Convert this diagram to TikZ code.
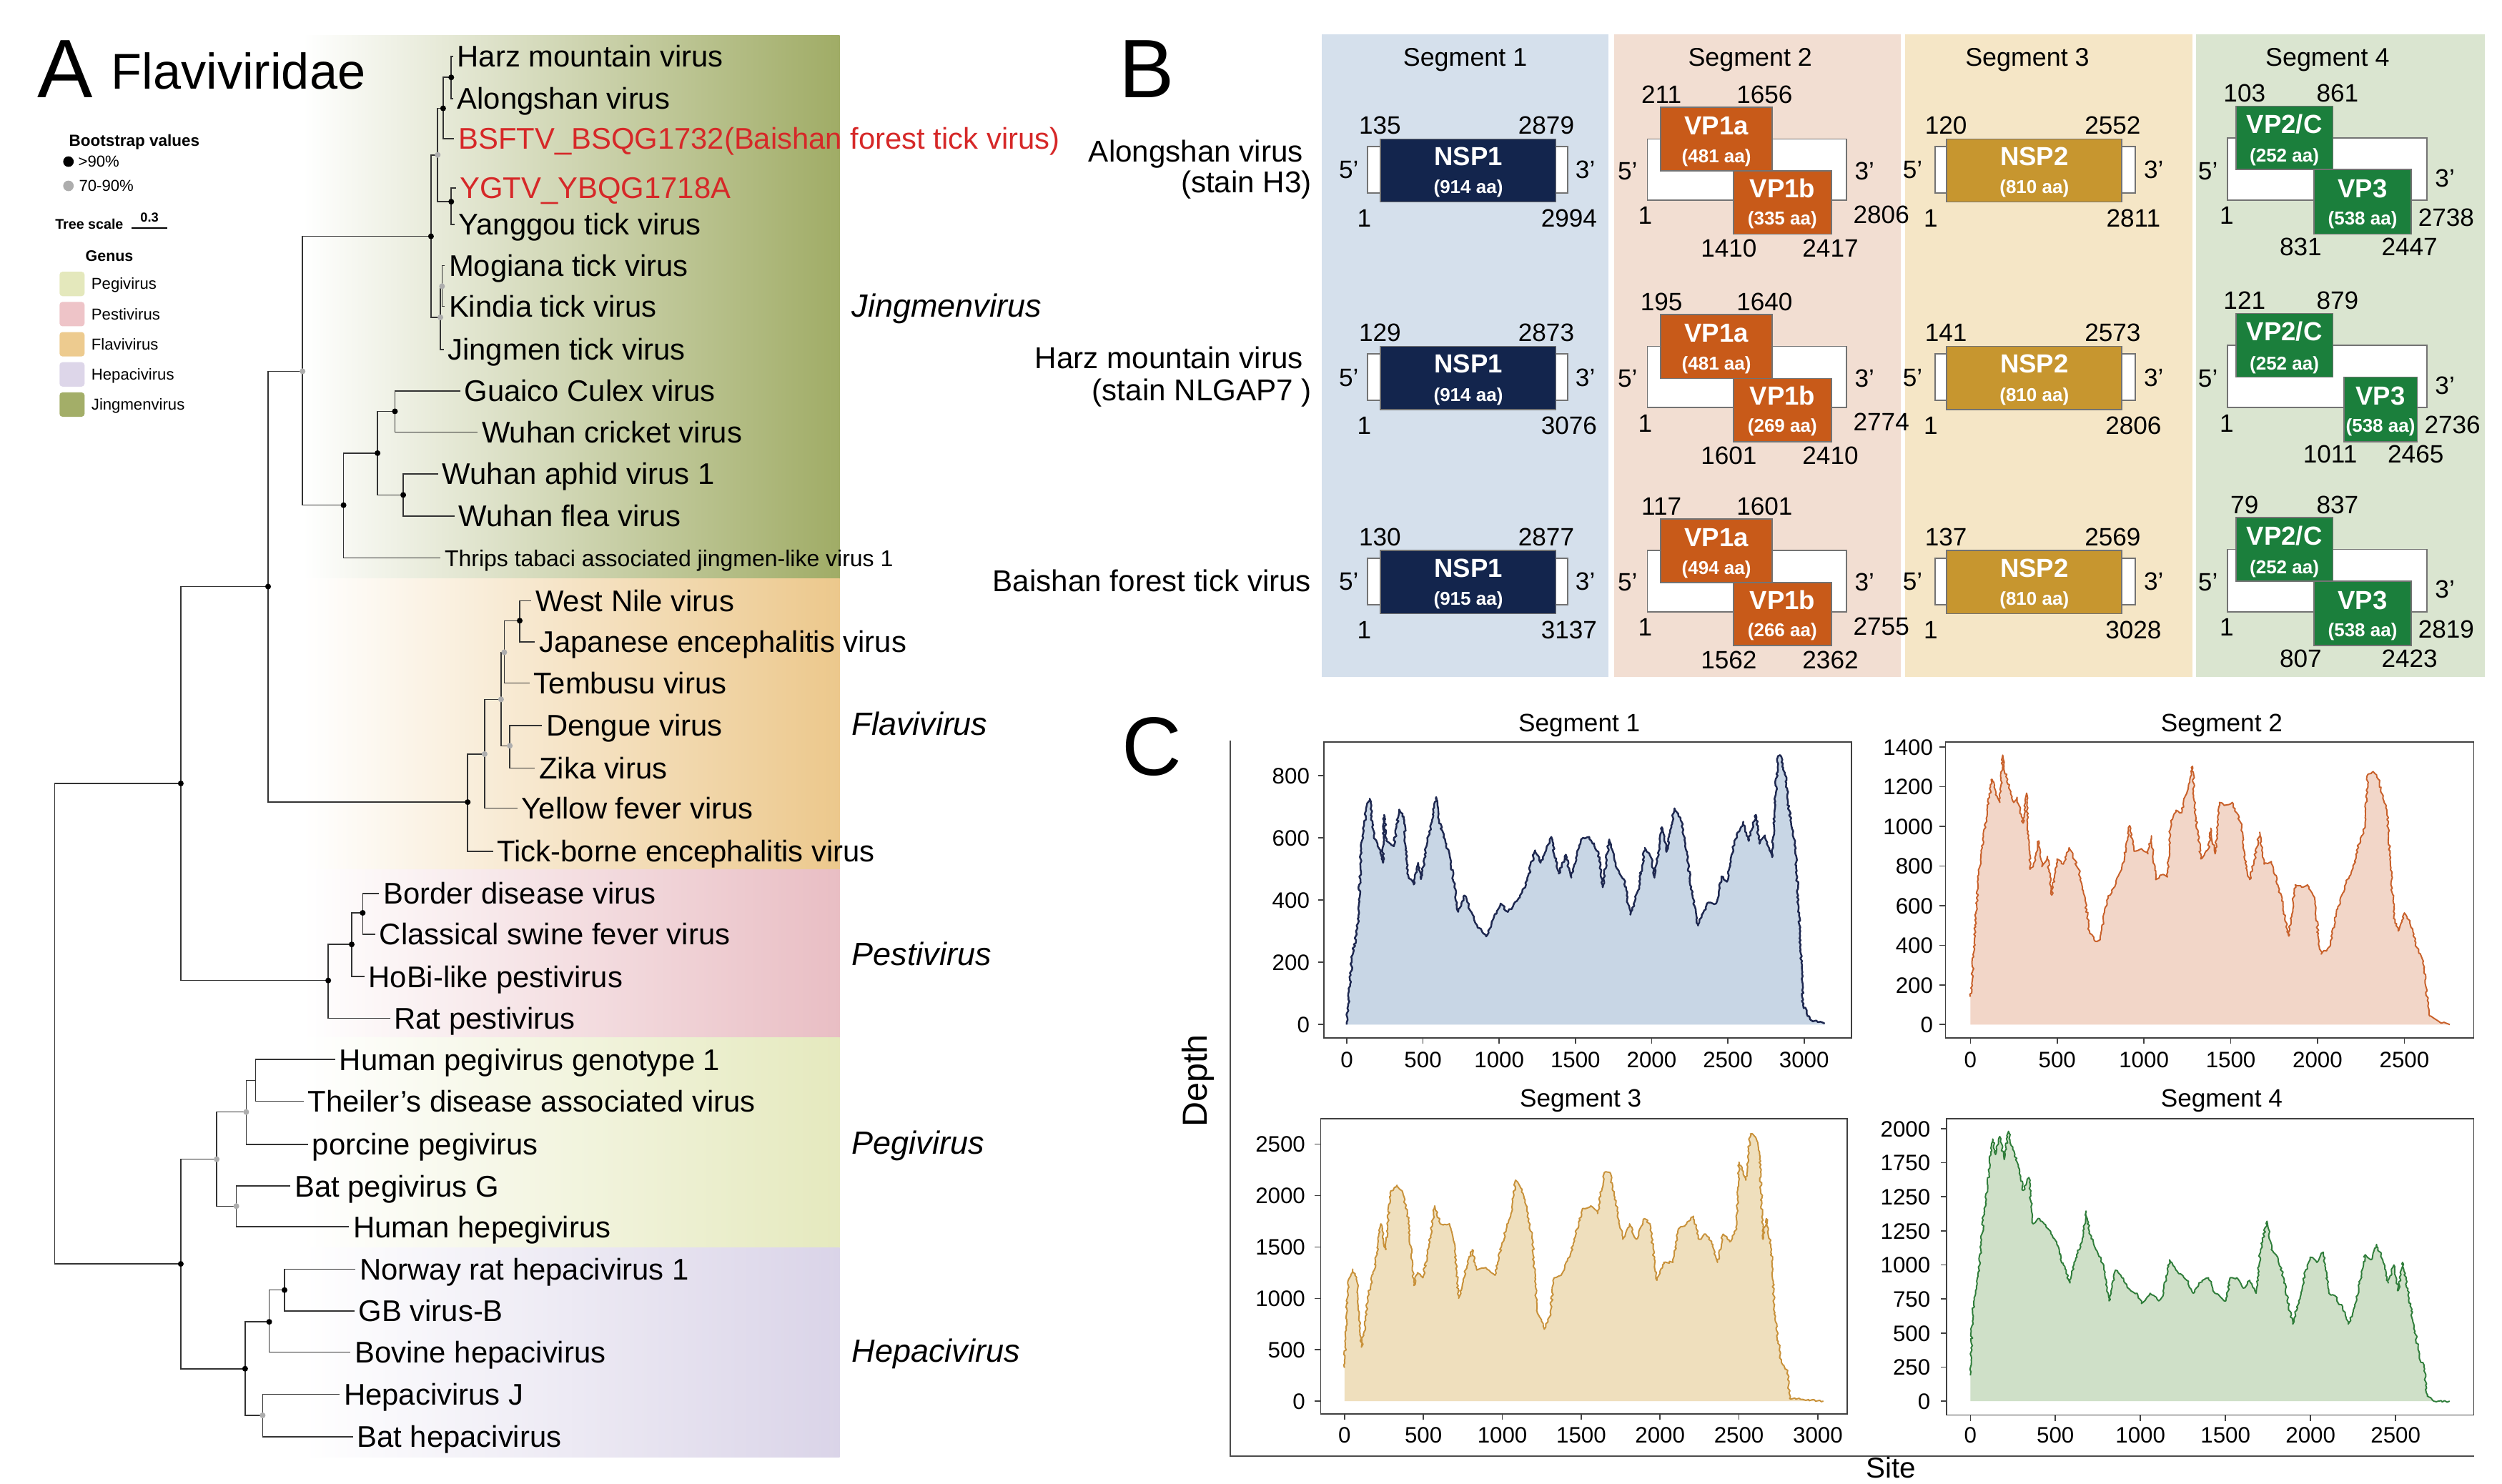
\documentclass[tikz,border=0pt]{standalone}
\usepackage{fontspec}
\setmainfont{Liberation Sans}
\usetikzlibrary{decorations.pathmorphing}
\definecolor{jingC}{RGB}{160,172,102}
\definecolor{flaviC}{RGB}{236,200,140}
\definecolor{pestiC}{RGB}{233,190,196}
\definecolor{pegiC}{RGB}{229,233,190}
\definecolor{hepaC}{RGB}{218,212,232}
\definecolor{lgPegi}{RGB}{228,232,188}
\definecolor{lgPesti}{RGB}{238,196,200}
\definecolor{lgFlavi}{RGB}{237,203,143}
\definecolor{lgHepa}{RGB}{221,214,233}
\definecolor{lgJing}{RGB}{163,174,104}
\definecolor{sOne}{RGB}{213,224,236}
\definecolor{sTwo}{RGB}{242,222,210}
\definecolor{sThree}{RGB}{245,230,198}
\definecolor{sFour}{RGB}{218,229,208}
\definecolor{cNSPa}{RGB}{19,37,77}
\definecolor{cVP}{RGB}{200,90,25}
\definecolor{cNSPb}{RGB}{199,150,47}
\definecolor{cGreen}{RGB}{27,127,60}
\definecolor{lOne}{RGB}{30,40,80}
\definecolor{fOne}{RGB}{200,214,229}
\definecolor{lTwo}{RGB}{200,96,42}
\definecolor{fTwo}{RGB}{242,214,200}
\definecolor{lThree}{RGB}{200,145,58}
\definecolor{fThree}{RGB}{239,223,189}
\definecolor{lFour}{RGB}{47,125,58}
\definecolor{fFour}{RGB}{207,224,200}
\definecolor{redL}{RGB}{214,40,40}

\newcommand\segone[6]{%
 \begin{scope}[shift={(0,#2)}]
 \draw[wbar] (857,91.8) rectangle (982.4,121);
 \draw[gbox,fill=cNSPa] (865.2,87.1) rectangle (975.1,126.6);
 \node[boxlab] (#1Na) at (920.2,97.8) {NSP1};
 \node[aalab] (#1Nb) at (920.2,117.2) {(#6 aa)};
 \node[num] (#1Nc) at (864.8,78.4) {#3};
 \node[num] (#1Nd) at (969,78.4) {#4};
 \node[num] (#1Ne) at (855,136.6) {1};
 \node[num] (#1Nf) at (983.3,136.6) {#5};
 \node[num] (#1Ng) at (845.3,106.3) {5’};
 \node[num] (#1Nh) at (993.5,106.3) {3’};
 \end{scope}}

\newcommand\segtwo[9]{%
 \begin{scope}[shift={(0,#2)}]
 \draw[wbar] (1032.4,87.1) rectangle (1157.3,125.4);
 \draw[gbox,fill=cVP] (1040.7,67.2) rectangle (1110.7,107.2);
 \draw[gbox,fill=cVP] (1086.3,107.2) rectangle (1147.6,146.7);
 \node[boxlab] (#1Va) at (1075.7,78.4) {VP1a};
 \node[aalab] (#1Vb) at (1075.7,97.8) {(#8 aa)};
 \node[boxlab] (#1Vc) at (1117,118) {VP1b};
 \node[aalab] (#1Vd) at (1117,136.6) {(#9 aa)};
 \node[num] (#1Ve) at (1041.2,59) {#3};
 \node[num] (#1Vf) at (1105.8,59) {#4};
 \node[num] (#1Vg) at (1031,135) {1};
 \node[num] (#1Vh) at (1179,134.4) {#5};
 \node[num] (#1Vi) at (1083.4,155.3) {#6};
 \node[num] (#1Vj) at (1147.1,155.3) {#7};
 \node[num] (#1Vk) at (1020,106.8) {5’};
 \node[num] (#1Vl) at (1168.5,106.8) {3’};
 \end{scope}}

\newcommand\segthree[6]{%
 \begin{scope}[shift={(0,#2)}]
 \draw[wbar] (1212.7,91.8) rectangle (1338,121);
 \draw[gbox,fill=cNSPb] (1220,87.1) rectangle (1329.8,126.6);
 \node[boxlab] (#1Ta) at (1274.9,97.8) {NSP2};
 \node[aalab] (#1Tb) at (1274.9,117.2) {(#6 aa)};
 \node[num] (#1Tc) at (1219.5,78.4) {#3};
 \node[num] (#1Td) at (1324,78.4) {#4};
 \node[num] (#1Te) at (1210,136.6) {1};
 \node[num] (#1Tf) at (1337,136.6) {#5};
 \node[num] (#1Tg) at (1198.6,106.3) {5’};
 \node[num] (#1Th) at (1349.7,106.3) {3’};
 \end{scope}}

\newcommand\segfour[9]{%
 \begin{scope}[shift={(0,#2)}]
 \draw[wbar] (1395.9,86.3) rectangle (1520.8,125.4);
 \draw[gbox,fill=cGreen] (1401.2,66.5) rectangle (1462,106.3);
 \draw[gbox,fill=cGreen] (#8,106.3) rectangle (#9,146.7);
 \node[boxlab] (#1Ga) at (1431.6,77.5) {VP2/C};
 \node[aalab] (#1Gb) at (1431.6,97.5) {(252 aa)};
 \node[boxlab] (#1Gc) at ({(#8+#9)/2},118) {VP3};
 \node[aalab] (#1Gd) at ({(#8+#9)/2},136.6) {(538 aa)};
 \node[num] (#1Ge) at (1406.6,58.2) {#3};
 \node[num] (#1Gf) at (1464.9,58.2) {#4};
 \node[num] (#1Gg) at (1395.4,135) {1};
 \node[num] (#1Gh) at ({#9+22},136) {#5};
 \node[num] (#1Gi) at ({#8-8.5},154.6) {#6};
 \node[num] (#1Gj) at ({#9-1},154.6) {#7};
 \node[num] (#1Gk) at (1383.7,106.8) {5’};
 \node[num] (#1Gl) at (1532.2,111.3) {3’};
 \end{scope}}

\newcommand\covplot[4]{%
 \fill[#1] (0,0) -- plot coordinates {#4} -- (#3,0) -- cycle;
 \draw[#2] plot coordinates {#4};}

\begin{document}
\begin{tikzpicture}[x=0.02232cm, y=-0.02232cm,
 br/.style={draw=black!80, line width=0.45pt},
 dotb/.style={fill=black},
 dotg/.style={fill=black!32},
 leaf/.style={anchor=west, inner xsep=1.5pt, inner ysep=0pt, font=\fontsize{11.9}{13}\selectfont, text height=8.5pt, text depth=0pt},
 redleaf/.style={leaf, text=redL},
 smallleaf/.style={leaf, font=\fontsize{9.1}{10}\selectfont, text height=6.5pt},
 genus/.style={anchor=west, inner sep=0pt, font=\fontsize{12.8}{14}\selectfont\itshape, text height=9.2pt, text depth=0pt},
 legt/.style={anchor=west, inner sep=0pt, font=\fontsize{6.4}{7}\selectfont\bfseries, text height=4.6pt, text depth=0pt},
 legl/.style={anchor=west, inner sep=0pt, font=\fontsize{6.3}{7}\selectfont, text height=4.5pt, text depth=0pt},
 legbox/.style={rounded corners=1.2pt},
 bleft/.style={anchor=east, inner sep=0pt, font=\fontsize{12}{14}\selectfont, text height=8.6pt, text depth=0pt},
 btitle/.style={inner sep=0pt, font=\fontsize{10.2}{12}\selectfont, text height=7.3pt, text depth=0pt},
 num/.style={inner sep=0pt, font=\fontsize{10}{12}\selectfont, text height=7.2pt, text depth=0pt},
 boxlab/.style={inner sep=0pt, font=\fontsize{10.4}{12}\selectfont\bfseries, text=white, text height=7.5pt, text depth=0pt},
 aalab/.style={inner sep=0pt, font=\fontsize{7.4}{9}\selectfont\bfseries, text=white, text height=5.3pt, text depth=0pt},
 wbar/.style={fill=white, draw=black!55, line width=0.5pt},
 gbox/.style={draw=black!55, line width=0.5pt},
 pframe/.style={draw=black!75, line width=0.45pt},
 tck/.style={draw=black!75, line width=0.45pt},
 ctick/.style={inner sep=0pt, font=\fontsize{8.9}{10}\selectfont, text height=6.4pt, text depth=0pt},
 ctitle/.style={inner sep=0pt, font=\fontsize{10}{12}\selectfont, text height=7.2pt, text depth=0pt},
 noisy/.style={decorate, decoration={random steps, segment length=0.9pt, amplitude=0.45pt}},
 big/.style={inner sep=0pt, anchor=base west}
]
\pgfmathsetseed{7}
\useasboundingbox (0,0) rectangle (1568,930);
\clip (0,0) rectangle (1568,930);
\fill[white] (0,0) rectangle (1568,930);

% ---------- genus bands ----------
\shade[left color=white, middle color=jingC!40, right color=jingC] (190,22.2) rectangle (526.2,362.5);
\shade[left color=white, middle color=flaviC!40, right color=flaviC] (190,362.5) rectangle (526.2,545);
\shade[left color=white, middle color=pestiC!40, right color=pestiC] (190,545) rectangle (526.2,650.4);
\shade[left color=white, middle color=pegiC!40, right color=pegiC] (190,650.4) rectangle (526.2,782);
\shade[left color=white, middle color=hepaC!40, right color=hepaC] (190,782) rectangle (526.2,913.2);

% ---------- panel A titles and legend ----------
\node[big, font=\fontsize{33}{36}\selectfont] (lA) at (23,61.3) {A};
\node[big, font=\fontsize{20}{24}\selectfont] (ttl) at (69.5,56) {Flaviviridae};
\node[legt] (lgbs) at (43,88.1) {Bootstrap values};
\fill[black] (42.9,101.3) circle (2.1pt);
\node[legl] (lg90) at (48.8,101) {>90\%};
\fill[black!32] (42.9,116.5) circle (2.1pt);
\node[legl] (lg70) at (49.2,116.5) {70-90\%};
\node[legt, font=\fontsize{5.6}{6}\selectfont\bfseries, text height=4pt] (lgts) at (34.3,140.4) {Tree scale};
\draw[line width=0.8pt] (82.4,142.9) -- (105,142.9);
\node[inner sep=0pt, font=\fontsize{5.2}{6}\selectfont\bfseries, text height=3.7pt, text depth=0pt] (lg03) at (93.7,136.3) {0.3};
\node[legt, font=\fontsize{6.1}{7}\selectfont\bfseries, text height=4.4pt] (lgge) at (53.3,160.5) {Genus};
\fill[legbox, lgPegi] (37.3,170.3) rectangle (53,185.6);
\fill[legbox, lgPesti] (37.3,189.2) rectangle (53,204.5);
\fill[legbox, lgFlavi] (37.3,208.1) rectangle (53,223.4);
\fill[legbox, lgHepa] (37.3,227) rectangle (53,242.3);
\fill[legbox, lgJing] (37.3,245.9) rectangle (53,261.2);
\node[legl] (lgp1) at (57,177.9) {Pegivirus};
\node[legl] (lgp2) at (57,196.9) {Pestivirus};
\node[legl] (lgp3) at (57,215.8) {Flavivirus};
\node[legl] (lgp4) at (57,234.7) {Hepacivirus};
\node[legl] (lgp5) at (57,253.6) {Jingmenvirus};

% ---------- tree leaves ----------
\node[leaf] (Lharz) at (283.9,35.4) {Harz mountain virus};
\node[leaf] (Lalong) at (283.9,61.7) {Alongshan virus};
\node[redleaf] (Lbsftv) at (284.6,86.9) {BSFTV\_BSQG1732(Baishan forest tick virus)};
\node[redleaf] (Lygtv) at (285.6,117.7) {YGTV\_YBQG1718A};
\node[leaf] (Lyang) at (284.9,140.6) {Yanggou tick virus};
\node[leaf] (Lmog) at (278.7,166.4) {Mogiana tick virus};
\node[leaf] (Lkin) at (278.7,192) {Kindia tick virus};
\node[leaf] (Ljing) at (278,219) {Jingmen tick virus};
\node[leaf] (Lguaico) at (288.3,245) {Guaico Culex virus};
\node[leaf] (Lcricket) at (299.3,270.9) {Wuhan cricket virus};
\node[leaf] (Laphid) at (274.6,297) {Wuhan aphid virus 1};
\node[leaf] (Lflea) at (284.9,323.4) {Wuhan flea virus};
\node[smallleaf] (Lthrips) at (276,349.7) {Thrips tabaci associated jingmen-like virus 1};
\node[leaf] (Lwn) at (332.9,376.6) {West Nile virus};
\node[leaf] (Lje) at (335.3,402.3) {Japanese encephalitis virus};
\node[leaf] (Ltemb) at (331.9,428) {Tembusu virus};
\node[leaf] (Ldeng) at (339.7,454.6) {Dengue virus};
\node[leaf] (Lzika) at (335.3,481.3) {Zika virus};
\node[leaf] (Lyf) at (324.3,506.5) {Yellow fever virus};
\node[leaf] (Ltbe) at (308.9,533.5) {Tick-borne encephalitis virus};
\node[leaf] (Lbord) at (237.6,560) {Border disease virus};
\node[leaf] (Lcsf) at (235.2,585.5) {Classical swine fever virus};
\node[leaf] (Lhobi) at (228.3,612) {HoBi-like pestivirus};
\node[leaf] (Lrat) at (244.4,638.2) {Rat pestivirus};
\node[leaf] (Lhpg) at (210.1,664) {Human pegivirus genotype 1};
\node[leaf] (Ltheil) at (190.3,690.1) {Theiler’s disease associated virus};
\node[leaf] (Lporc) at (193,717.2) {porcine pegivirus};
\node[leaf] (Lbatg) at (182,743.3) {Bat pegivirus G};
\node[leaf] (Lhhpg) at (218.7,768.8) {Human hepegivirus};
\node[leaf] (Lnrh) at (222.8,795.5) {Norway rat hepacivirus 1};
\node[leaf] (Lgb) at (222.1,821.6) {GB virus-B};
\node[leaf] (Lbov) at (219.7,847.4) {Bovine hepacivirus};
\node[leaf] (Lhj) at (212.9,873.9) {Hepacivirus J};
\node[leaf] (Lbath) at (221.1,900.4) {Bat hepacivirus};

% ---------- internal nodes ----------
\coordinate (nHA) at (282.8,48.5);
\coordinate (nA1) at (277.7,67.9);
\coordinate (nYG) at (282.8,126.4);
\coordinate (nA2) at (274.3,97.1);
\coordinate (nMK) at (277,179.4);
\coordinate (nA3) at (276,198.9);
\coordinate (nTick) at (270.1,148.1);
\coordinate (nGC) at (247.5,257.8);
\coordinate (nAF) at (252.7,310.2);
\coordinate (nIns) at (236.6,284);
\coordinate (nInsB) at (215.3,316.6);
\coordinate (nJing) at (189.6,232.7);
\coordinate (nJF) at (168,367.6);
\coordinate (nWJ) at (325.7,389);
\coordinate (nWJT) at (316,408.8);
\coordinate (nDZ) at (319.5,467.4);
\coordinate (nFC) at (314,438.3);
\coordinate (nFB) at (303.7,472.6);
\coordinate (nFlavi) at (293.1,502.7);
\coordinate (nTop) at (113.3,491);
\coordinate (nBC) at (227.3,572.1);
\coordinate (nPB) at (220.4,591.9);
\coordinate (nPesti) at (205.7,614.5);
\coordinate (nRoot) at (34.3,641.5);
\coordinate (nPH) at (113.3,792.1);
\coordinate (nHT) at (160.1,677.1);
\coordinate (nPGB) at (154.3,696.9);
\coordinate (nBH) at (148.1,755.9);
\coordinate (nPegi) at (135.8,726.5);
\coordinate (nNG) at (178.3,808.5);
\coordinate (nHB) at (168.7,828.4);
\coordinate (nJB) at (164.6,887);
\coordinate (nHepa) at (153.6,857.8);

% ---------- branches ----------
\draw[br] (nHA) |- (Lharz.west);  \draw[br] (nHA) |- (Lalong.west);
\draw[br] (nA1) |- (nHA);         \draw[br] (nA1) |- (Lbsftv.west);
\draw[br] (nYG) |- (Lygtv.west);  \draw[br] (nYG) |- (Lyang.west);
\draw[br] (nA2) |- (nA1);         \draw[br] (nA2) |- (nYG);
\draw[br] (nMK) |- (Lmog.west);   \draw[br] (nMK) |- (Lkin.west);
\draw[br] (nA3) |- (nMK);         \draw[br] (nA3) |- (Ljing.west);
\draw[br] (nTick) |- (nA2);       \draw[br] (nTick) |- (nA3);
\draw[br] (nGC) |- (Lguaico.west); \draw[br] (nGC) |- (Lcricket.west);
\draw[br] (nAF) |- (Laphid.west); \draw[br] (nAF) |- (Lflea.west);
\draw[br] (nIns) |- (nGC);        \draw[br] (nIns) |- (nAF);
\draw[br] (nInsB) |- (nIns);      \draw[br] (nInsB) |- (Lthrips.west);
\draw[br] (nJing) |- (nTick);     \draw[br] (nJing) |- (nInsB);
\draw[br] (nJF) |- (nJing);       \draw[br] (nJF) |- (nFlavi);
\draw[br] (nWJ) |- (Lwn.west);    \draw[br] (nWJ) |- (Lje.west);
\draw[br] (nWJT) |- (nWJ);        \draw[br] (nWJT) |- (Ltemb.west);
\draw[br] (nDZ) |- (Ldeng.west);  \draw[br] (nDZ) |- (Lzika.west);
\draw[br] (nFC) |- (nWJT);        \draw[br] (nFC) |- (nDZ);
\draw[br] (nFB) |- (nFC);         \draw[br] (nFB) |- (Lyf.west);
\draw[br] (nFlavi) |- (nFB);      \draw[br] (nFlavi) |- (Ltbe.west);
\draw[br] (nTop) |- (nJF);        \draw[br] (nTop) |- (nPesti);
\draw[br] (nBC) |- (Lbord.west);  \draw[br] (nBC) |- (Lcsf.west);
\draw[br] (nPB) |- (nBC);         \draw[br] (nPB) |- (Lhobi.west);
\draw[br] (nPesti) |- (nPB);      \draw[br] (nPesti) |- (Lrat.west);
\draw[br] (nRoot) |- (nTop);      \draw[br] (nRoot) |- (nPH);
\draw[br] (nHT) |- (Lhpg.west);   \draw[br] (nHT) |- (Ltheil.west);
\draw[br] (nPGB) |- (nHT);        \draw[br] (nPGB) |- (Lporc.west);
\draw[br] (nBH) |- (Lbatg.west);  \draw[br] (nBH) |- (Lhhpg.west);
\draw[br] (nPegi) |- (nPGB);      \draw[br] (nPegi) |- (nBH);
\draw[br] (nNG) |- (Lnrh.west);   \draw[br] (nNG) |- (Lgb.west);
\draw[br] (nHB) |- (nNG);         \draw[br] (nHB) |- (Lbov.west);
\draw[br] (nJB) |- (Lhj.west);    \draw[br] (nJB) |- (Lbath.west);
\draw[br] (nHepa) |- (nHB);       \draw[br] (nHepa) |- (nJB);
\draw[br] (nPH) |- (nPegi);       \draw[br] (nPH) |- (nHepa);

% ---------- bootstrap dots ----------
\foreach \n in {nHA,nA1,nYG,nTick,nGC,nAF,nIns,nInsB,nJF,nWJ,nFlavi,nTop,nBC,nPB,nPesti,nPH,nNG,nHB,nHepa}
  \fill[dotb] (\n) circle (1.15pt);
\foreach \n in {nA2,nMK,nA3,nJing,nWJT,nDZ,nFC,nFB,nPGB,nBH,nPegi,nJB}
  \fill[dotg] (\n) circle (1.15pt);

% ---------- genus labels ----------
\node[genus] (gJing) at (533.5,191.4) {Jingmenvirus};
\node[genus] (gFlavi) at (533.5,453.7) {Flavivirus};
\node[genus] (gPesti) at (533.5,597.6) {Pestivirus};
\node[genus] (gPegi) at (533.5,716) {Pegivirus};
\node[genus] (gHepa) at (533.5,846.6) {Hepacivirus};

% ---------- panel B ----------
\node[big, font=\fontsize{33}{36}\selectfont] (lB) at (701,61) {B};
\fill[sOne] (828.3,21.4) rectangle (1008.1,424.1);
\fill[sTwo] (1011.5,21.4) rectangle (1191.3,424.1);
\fill[sThree] (1193.7,21.4) rectangle (1374,424.1);
\fill[sFour] (1376.4,21.4) rectangle (1557.2,424.1);
\node[btitle] (bt1) at (918.2,35.8) {Segment 1};
\node[btitle] (bt2) at (1096.8,35.8) {Segment 2};
\node[btitle] (bt3) at (1270.5,35.8) {Segment 3};
\node[btitle] (bt4) at (1458.6,35.8) {Segment 4};
\node[bleft] (bl1a) at (817,94.5) {Alongshan virus};
\node[bleft] (bl1b) at (822.3,114) {(stain H3)};
\node[bleft] (bl2a) at (817,224) {Harz mountain virus};
\node[bleft] (bl2b) at (822.3,244.4) {(stain NLGAP7 )};
\node[bleft] (bl3a) at (822,363.8) {Baishan forest tick virus};

\segone{ra}{0}{135}{2879}{2994}{914}
\segone{rb}{130}{129}{2873}{3076}{914}
\segone{rc}{258}{130}{2877}{3137}{915}
\segtwo{ra}{0}{211}{1656}{2806}{1410}{2417}{481}{335}
\segtwo{rb}{130}{195}{1640}{2774}{1601}{2410}{481}{269}
\segtwo{rc}{258}{117}{1601}{2755}{1562}{2362}{494}{266}
\segthree{ra}{0}{120}{2552}{2811}{810}
\segthree{rb}{130}{141}{2573}{2806}{810}
\segthree{rc}{258}{137}{2569}{3028}{810}
\segfour{ra}{0}{103}{861}{2738}{831}{2447}{1450.3}{1511}
\segfour{rb}{130}{121}{879}{2736}{1011}{2465}{1468.8}{1514.9}
\segfour{rc}{258}{79}{837}{2819}{807}{2423}{1450.3}{1511}

% ---------- panel C ----------
\node[big, font=\fontsize{33}{36}\selectfont] (lC) at (703,486) {C};
\draw[draw=black!70, line width=0.6pt] (771.1,464.3) -- (771.1,912.6) -- (1550.4,912.6);
\node[rotate=90, inner sep=0pt, font=\fontsize{13.8}{16}\selectfont, text height=9.9pt, text depth=0pt] (depth) at (748.6,677.4) {Depth};
\node[inner sep=0pt, anchor=base, font=\fontsize{11.5}{13}\selectfont] (site) at (1185,926.3) {Site};

% Segment 1 plot
\begin{scope}[shift={(844,642.1)}, xscale=0.09553, yscale=-0.195]
\covplot{fOne}{draw=lOne, line width=0.7pt, line join=round, noisy}{3135}{(0,0) (36,222) (71,310) (95,564) (126,687) (150,726) (178,608) (202,581) (238,520) (245,674) (261,590) (309,573) (344,691) (373,669) (397,485) (439,450) (468,520) (487,467) (523,573) (558,656) (587,731) (606,656) (677,538) (731,362) (772,415) (843,327) (914,283) (962,340) (1009,389) (1057,362) (1116,397) (1176,450) (1235,560) (1271,520) (1342,603) (1390,485) (1437,546) (1473,472) (1537,595) (1591,603) (1651,555) (1679,441) (1722,595) (1770,503) (1818,467) (1860,353) (1912,432) (1955,568) (1995,538) (2019,472) (2067,634) (2097,555) (2150,695) (2197,651) (2221,581) (2268,415) (2304,318) (2328,345) (2363,389) (2423,389) (2458,476) (2494,459) (2542,590) (2601,652) (2637,590) (2684,674) (2708,581) (2743,608) (2791,538) (2827,862) (2843,866) (2874,809) (2910,656) (2941,590) (2964,380) (2993,64) (3040,16) (3135,3)}
\end{scope}
\draw[pframe] (829.7,464.9) rectangle (1160.3,650.4);
\node[ctitle] (ct1) at (989.7,453) {Segment 1};
\foreach \v in {0,200,...,800} {
  \draw[tck] (826,{642.1-0.195*\v}) -- (829.7,{642.1-0.195*\v});
  \node[ctick, anchor=east] (cay\v) at (821,{642.1-0.195*\v}) {\v};}
\foreach \v in {0,500,...,3000} {
  \draw[tck] ({844+0.09553*\v},650.4) -- ({844+0.09553*\v},654);
  \node[ctick] (cax\v) at ({844+0.09553*\v},664) {\v};}

% Segment 2 plot
\begin{scope}[shift={(1234.8,642.1)}, xscale=0.1088, yscale=-0.12429]
\covplot{fTwo}{draw=lTwo, line width=0.55pt, line join=round, noisy}{2762}{(0,140) (12,264) (45,731) (87,1016) (125,1237) (145,1159) (170,1120) (187,1359) (205,1250) (250,1120) (269,1146) (304,1016) (324,1167) (344,783) (362,796) (394,926) (412,796) (444,848) (469,653) (499,835) (536,809) (569,892) (624,783) (661,627) (686,472) (719,420) (748,433) (786,627) (836,705) (873,796) (898,887) (918,1003) (943,874) (985,887) (1023,861) (1043,952) (1068,731) (1110,757) (1135,744) (1155,1029) (1185,1081) (1218,1068) (1235,1146) (1268,1250) (1280,1302) (1292,1107) (1327,835) (1372,887) (1385,990) (1410,861) (1435,1120) (1472,1107) (1509,1120) (1534,1068) (1559,1016) (1592,783) (1609,731) (1634,822) (1667,970) (1692,809) (1734,822) (1771,705) (1801,601) (1834,446) (1871,705) (1909,692) (1941,705) (1983,640) (2008,420) (2021,355) (2071,394) (2108,563) (2166,718) (2201,783) (2246,939) (2266,965) (2291,1263) (2320,1276) (2350,1237) (2375,1159) (2400,1068) (2440,550) (2465,472) (2500,563) (2532,524) (2565,407) (2607,316) (2645,44) (2695,18) (2762,0)}
\end{scope}
\draw[pframe] (1219.3,464.9) rectangle (1550.3,650.4);
\node[ctitle] (ct2) at (1392.3,453) {Segment 2};
\foreach \v in {0,200,...,1400} {
  \draw[tck] (1215.6,{642.1-0.12429*\v}) -- (1219.3,{642.1-0.12429*\v});
  \node[ctick, anchor=east] (cby\v) at (1211.7,{642.1-0.12429*\v}) {\v};}
\foreach \v in {0,500,...,2500} {
  \draw[tck] ({1234.8+0.1088*\v},650.4) -- ({1234.8+0.1088*\v},654);
  \node[ctick] (cbx\v) at ({1234.8+0.1088*\v},664) {\v};}

% Segment 3 plot
\begin{scope}[shift={(842.6,878.1)}, xscale=0.09887, yscale=-0.0644]
\covplot{fThree}{draw=lThree, line width=0.55pt, line join=round, noisy}{3035}{(0,325) (23,1175) (52,1285) (81,1150) (107,525) (124,675) (150,1025) (188,1275) (231,1725) (260,1475) (289,2025) (332,2100) (370,2025) (405,1775) (439,1125) (462,1250) (497,1200) (535,1525) (572,1900) (607,1725) (665,1725) (699,1525) (723,1000) (766,1275) (809,1475) (838,1275) (896,1300) (954,1225) (997,1525) (1055,1825) (1084,2150) (1116,2075) (1156,1875) (1191,1575) (1220,900) (1266,700) (1301,825) (1329,1200) (1373,1225) (1431,1425) (1474,1675) (1509,1875) (1561,1900) (1604,1825) (1647,2225) (1682,2225) (1720,1925) (1763,1575) (1807,1725) (1850,1575) (1902,1775) (1936,1725) (1980,1175) (2023,1350) (2081,1350) (2116,1675) (2168,1725) (2211,1800) (2249,1575) (2289,1625) (2335,1525) (2364,1350) (2399,1625) (2442,1550) (2486,1675) (2500,2325) (2543,2150) (2572,2600) (2601,2575) (2630,2425) (2653,1575) (2673,1775) (2702,1525) (2731,775) (2769,375) (2809,300) (2821,25) (3035,0)}
\end{scope}
\draw[pframe] (827.7,701) rectangle (1157.7,886.2);
\node[ctitle] (ct3) at (990.6,688.2) {Segment 3};
\foreach \v in {0,500,...,2500} {
  \draw[tck] (824,{878.1-0.0644*\v}) -- (827.7,{878.1-0.0644*\v});
  \node[ctick, anchor=east] (ccy\v) at (818.3,{878.1-0.0644*\v}) {\v};}
\foreach \v in {0,500,...,3000} {
  \draw[tck] ({842.6+0.09887*\v},886.2) -- ({842.6+0.09887*\v},889.8);
  \node[ctick] (ccx\v) at ({842.6+0.09887*\v},899.1) {\v};}

% Segment 4 plot
\begin{scope}[shift={(1234.8,878.1)}, xscale=0.1066, yscale=-0.08535]
\covplot{fFour}{draw=lFour, line width=0.55pt, line join=round, noisy}{2818}{(0,189) (13,660) (38,849) (64,1151) (81,1415) (102,1566) (120,1830) (132,1925) (148,1811) (173,1943) (199,1774) (224,1981) (249,1849) (275,1755) (311,1547) (344,1642) (369,1302) (407,1340) (458,1264) (509,1151) (547,1000) (586,868) (624,1075) (657,1170) (680,1396) (700,1245) (738,1113) (784,1000) (815,736) (853,962) (891,906) (942,811) (980,792) (1006,717) (1057,792) (1107,736) (1133,774) (1171,1038) (1209,962) (1273,887) (1311,792) (1344,868) (1400,906) (1438,792) (1464,774) (1502,736) (1527,906) (1566,906) (1604,830) (1642,887) (1680,792) (1706,1113) (1744,1321) (1769,1113) (1807,1057) (1846,887) (1871,698) (1896,566) (1930,736) (1965,925) (1998,1057) (2037,1019) (2075,1094) (2108,792) (2144,774) (2189,679) (2222,566) (2261,698) (2291,887) (2322,1075) (2355,1038) (2388,1151) (2424,1038) (2457,868) (2490,1000) (2515,811) (2541,1019) (2571,811) (2609,547) (2643,302) (2668,264) (2686,38) (2724,0) (2818,0)}
\end{scope}
\draw[pframe] (1220,701) rectangle (1550.3,886.8);
\node[ctitle] (ct4) at (1392.3,688.2) {Segment 4};
\foreach \i/\l in {0/0,1/250,2/500,3/750,4/1000,5/1250,6/1250,7/1750,8/2000} {
  \draw[tck] (1216.3,{878.1-21.34*\i}) -- (1220,{878.1-21.34*\i});
  \node[ctick, anchor=east] (cdy\i) at (1210,{878.1-21.34*\i}) {\l};}
\foreach \v in {0,500,...,2500} {
  \draw[tck] ({1234.8+0.1066*\v},886.8) -- ({1234.8+0.1066*\v},890.4);
  \node[ctick] (cdx\v) at ({1234.8+0.1066*\v},899.1) {\v};}
\end{tikzpicture}
\end{document}
